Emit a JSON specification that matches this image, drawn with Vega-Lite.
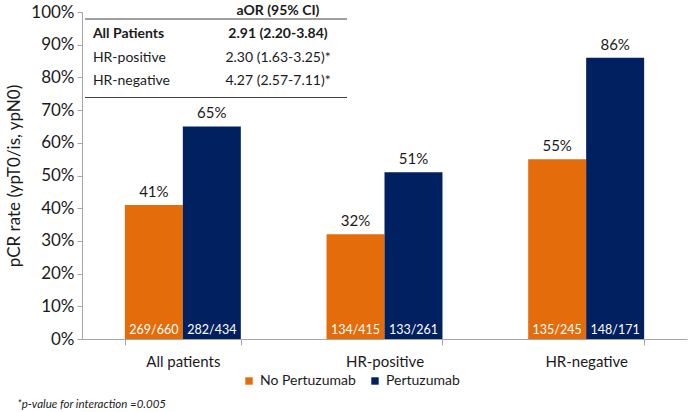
{
  "$schema": "https://vega.github.io/schema/vega-lite/v6.json",
  "width": 605,
  "height": 327,
  "autosize": "none",
  "padding": {"left": 82, "top": 12, "right": 1, "bottom": 73},
  "background": "white",
  "config": {
    "font": "Lato",
    "view": {"stroke": null},
    "axis": {"labelColor": "#1a1a1a", "titleColor": "#1a1a1a"},
    "axisY": {
      "grid": false, "labelFontSize": 17, "labelPadding": 3, "tickSize": 5, "labelOverlap": false,
      "tickColor": "#A6A6A6", "domainColor": "#A6A6A6", "titleFontSize": 17, "titleFontWeight": "normal", "titlePadding": 7
    }
  },
  "resolve": {"scale": {"x": "independent", "y": "independent"}},
  "layer": [
    {
      "data": {
        "values": [
          {"group": "All patients", "arm": "No Pertuzumab", "pct": 0.41, "n": "269/660"},
          {"group": "All patients", "arm": "Pertuzumab", "pct": 0.65, "n": "282/434"},
          {"group": "HR-positive", "arm": "No Pertuzumab", "pct": 0.32, "n": "134/415"},
          {"group": "HR-positive", "arm": "Pertuzumab", "pct": 0.51, "n": "133/261"},
          {"group": "HR-negative", "arm": "No Pertuzumab", "pct": 0.55, "n": "135/245"},
          {"group": "HR-negative", "arm": "Pertuzumab", "pct": 0.86, "n": "148/171"}
        ]
      },
      "encoding": {
        "x": {
          "field": "group", "type": "nominal", "sort": null,
          "scale": {"paddingInner": 0.425, "paddingOuter": 0.2125},
          "axis": {
            "title": null, "labelAngle": 0, "labelFontSize": 15, "labelPadding": 9,
            "tickBand": "extent", "tickSize": 6, "tickColor": "#A6A6A6", "domainColor": "#A6A6A6"
          }
        },
        "xOffset": {"field": "arm", "type": "nominal", "sort": ["No Pertuzumab", "Pertuzumab"], "scale": {"paddingInner": 0, "paddingOuter": 0}}
      },
      "layer": [
        {
          "mark": {"type": "bar"},
          "encoding": {
            "y": {
              "field": "pct", "type": "quantitative",
              "scale": {"domain": [0, 1], "nice": false},
              "axis": {"format": ".0%", "values": [0, 0.1, 0.2, 0.3, 0.4, 0.5, 0.6, 0.7, 0.8, 0.9, 1], "title": "pCR rate (ypT0/is, ypN0)"}
            },
            "color": {
              "field": "arm", "type": "nominal",
              "scale": {"domain": ["No Pertuzumab", "Pertuzumab"], "range": ["#E46C0A", "#002060"]},
              "legend": {
                "title": null, "orient": "none", "legendX": 160, "legendY": 362, "direction": "horizontal",
                "symbolType": "square", "symbolSize": 55, "symbolStrokeWidth": 0, "labelFontSize": 14,
                "labelColor": "#1a1a1a", "columnPadding": 12, "labelOffset": 4
              }
            }
          }
        },
        {
          "mark": {"type": "text", "baseline": "bottom", "dy": -5, "fontSize": 15, "color": "#1a1a1a"},
          "encoding": {
            "y": {
              "field": "pct", "type": "quantitative", "scale": {"domain": [0, 1], "nice": false},
              "axis": {"format": ".0%", "values": [0, 0.1, 0.2, 0.3, 0.4, 0.5, 0.6, 0.7, 0.8, 0.9, 1], "title": "pCR rate (ypT0/is, ypN0)"}
            },
            "text": {"field": "pct", "type": "quantitative", "format": ".0%"}
          }
        },
        {
          "mark": {"type": "text", "baseline": "bottom", "dy": -2, "fontSize": 12.5, "color": "white"},
          "encoding": {
            "y": {
              "datum": 0, "type": "quantitative", "scale": {"domain": [0, 1], "nice": false},
              "axis": {"format": ".0%", "values": [0, 0.1, 0.2, 0.3, 0.4, 0.5, 0.6, 0.7, 0.8, 0.9, 1], "title": "pCR rate (ypT0/is, ypN0)"}
            },
            "text": {"field": "n", "type": "nominal"}
          }
        }
      ]
    },
    {
      "data": {
        "values": [
          {"row": "header", "label": "", "value": "aOR (95% CI)"},
          {"row": "All Patients", "label": "All Patients", "value": "2.91 (2.20-3.84)"},
          {"row": "HR-positive", "label": "HR-positive", "value": "2.30 (1.63-3.25)*"},
          {"row": "HR-negative", "label": "HR-negative", "value": "4.27 (2.57-7.11)*"}
        ]
      },
      "encoding": {
        "y": {
          "field": "row", "type": "nominal", "sort": null,
          "scale": {"type": "point", "domain": ["header", "All Patients", "HR-positive", "HR-negative"], "range": [-1, 69], "padding": 0},
          "axis": null
        }
      },
      "layer": [
        {
          "transform": [{"filter": "datum.row === 'HR-positive' || datum.row === 'HR-negative'"}],
          "mark": {"type": "text", "align": "left", "baseline": "middle", "fontSize": 14, "color": "#1a1a1a"},
          "encoding": {
            "x": {"datum": 0.018, "type": "quantitative", "scale": {"domain": [0, 1], "nice": false, "zero": false}, "axis": null},
            "text": {"field": "label"}
          }
        },
        {
          "transform": [{"filter": "datum.row === 'All Patients'"}],
          "mark": {"type": "text", "align": "left", "baseline": "middle", "fontSize": 14, "fontWeight": "bold", "color": "#1a1a1a"},
          "encoding": {
            "x": {"datum": 0.018, "type": "quantitative", "scale": {"domain": [0, 1], "nice": false, "zero": false}, "axis": null},
            "text": {"field": "label"}
          }
        },
        {
          "transform": [{"filter": "datum.row === 'HR-positive' || datum.row === 'HR-negative'"}],
          "mark": {"type": "text", "align": "center", "baseline": "middle", "fontSize": 14, "color": "#1a1a1a"},
          "encoding": {
            "x": {"datum": 0.324, "type": "quantitative", "scale": {"domain": [0, 1], "nice": false, "zero": false}, "axis": null},
            "text": {"field": "value"}
          }
        },
        {
          "transform": [{"filter": "datum.row === 'header' || datum.row === 'All Patients'"}],
          "mark": {"type": "text", "align": "center", "baseline": "middle", "fontSize": 14, "fontWeight": "bold", "color": "#1a1a1a"},
          "encoding": {
            "x": {"datum": 0.324, "type": "quantitative", "scale": {"domain": [0, 1], "nice": false, "zero": false}, "axis": null},
            "text": {"field": "value"}
          }
        }
      ]
    },
    {
      "data": {"values": [{"line": "top"}, {"line": "bottom"}]},
      "mark": {"type": "rule", "color": "#404040", "strokeWidth": 1.2},
      "encoding": {
        "x": {"datum": 0.005, "type": "quantitative", "scale": {"domain": [0, 1], "nice": false, "zero": false}, "axis": null},
        "x2": {"datum": 0.438},
        "y": {"field": "line", "type": "nominal", "sort": null, "scale": {"type": "point", "domain": ["top", "bottom"], "range": [7, 85.5], "padding": 0}, "axis": null}
      }
    },
    {
      "data": {"values": [{"note": "*p-value for interaction =0.005"}]},
      "mark": {"type": "text", "align": "left", "baseline": "middle", "fontSize": 11.5, "fontStyle": "italic", "color": "#1a1a1a"},
      "encoding": {
        "x": {"datum": -0.107, "type": "quantitative", "scale": {"domain": [0, 1], "nice": false, "zero": false}, "axis": null},
        "y": {"datum": -0.202, "type": "quantitative", "scale": {"domain": [0, 1], "nice": false, "zero": false}, "axis": null},
        "text": {"field": "note"}
      }
    }
  ]
}
